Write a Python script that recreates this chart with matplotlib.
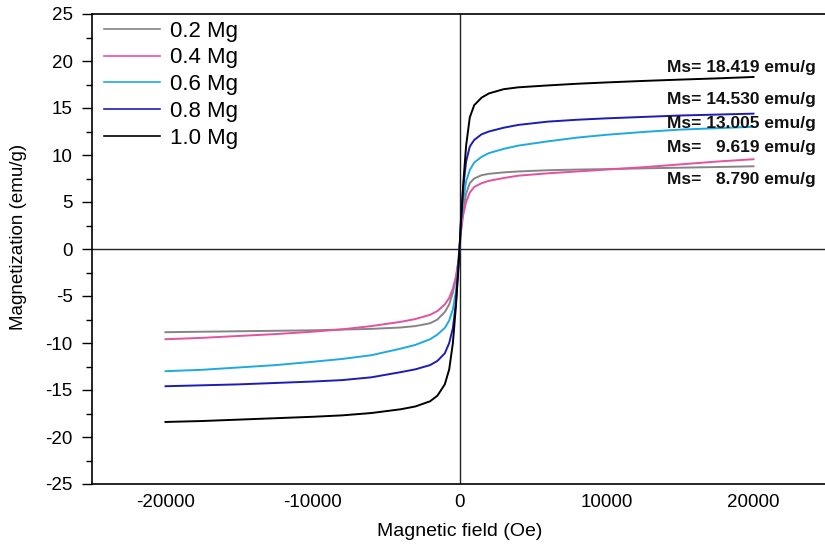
import matplotlib
matplotlib.use("Agg")
import matplotlib.pyplot as plt
from matplotlib.ticker import MultipleLocator

plt.rcParams['font.family'] = ['Liberation Sans', 'DejaVu Sans']
plt.rcParams['axes.unicode_minus'] = False

# Applied field (Oe)
field = [-20000, -17500, -15000, -12500, -10000, -8000, -6000, -4000, -3000,
         -2000, -1500, -1000, -700, -450, -250, -100, 0,
         100, 250, 450, 700, 1000, 1500, 2000, 3000, 4000, 6000, 8000,
         10000, 12500, 15000, 17500, 20000]

labels = ["0.2 Mg", "0.4 Mg", "0.6 Mg", "0.8 Mg", "1.0 Mg"]
colors = ["#858585", "#e2529f", "#1ea9e0", "#1c1cb8", "#000000"]

# Magnetization (emu/g)
m_02 = [-8.85, -8.8, -8.75, -8.7, -8.65, -8.57, -8.5, -8.35, -8.2,
        -7.9, -7.5, -6.7, -5.9, -4.6, -3.2, -1.6, 0.0,
        2.0, 4.2, 5.9, 7.0, 7.5, 7.85, 8.0, 8.15, 8.25, 8.38, 8.45,
        8.5, 8.58, 8.65, 8.72, 8.8]
m_04 = [-9.6, -9.45, -9.25, -9.05, -8.8, -8.55, -8.2, -7.75, -7.45,
        -7.0, -6.6, -5.9, -5.2, -4.2, -3.0, -1.5, 0.0,
        1.8, 3.6, 5.0, 6.0, 6.6, 7.0, 7.25, 7.55, 7.8, 8.05, 8.25,
        8.45, 8.7, 9.0, 9.3, 9.55]
m_06 = [-13.0, -12.85, -12.6, -12.35, -12.0, -11.7, -11.3, -10.6, -10.2,
        -9.6, -9.1, -8.4, -7.6, -6.4, -4.6, -2.2, 0.0,
        2.6, 5.2, 7.2, 8.4, 9.2, 9.8, 10.2, 10.65, 11.0, 11.45, 11.85,
        12.15, 12.45, 12.7, 12.85, 13.0]
m_08 = [-14.6, -14.5, -14.4, -14.25, -14.1, -13.95, -13.65, -13.1, -12.8,
        -12.35, -11.9, -11.1, -10.0, -8.4, -5.8, -2.6, 0.0,
        3.0, 6.5, 9.3, 10.9, 11.6, 12.2, 12.5, 12.9, 13.2, 13.55, 13.75,
        13.9, 14.05, 14.2, 14.3, 14.4]
m_10 = [-18.4, -18.3, -18.15, -18.0, -17.85, -17.7, -17.45, -17.05, -16.75,
        -16.2, -15.6, -14.4, -12.8, -10.0, -6.2, -2.6, 0.0,
        3.0, 6.8, 11.0, 14.0, 15.3, 16.1, 16.55, 17.0, 17.2, 17.4, 17.58,
        17.72, 17.88, 18.02, 18.15, 18.3]
series = [m_02, m_04, m_06, m_08, m_10]

ms_texts = ["Ms= 18.419 emu/g", "Ms= 14.530 emu/g", "Ms= 13.005 emu/g",
            "Ms=   9.619 emu/g", "Ms=   8.790 emu/g"]
ms_ypos = [19.3, 15.9, 13.4, 10.8, 7.4]

fig = plt.figure(figsize=(8.25, 5.47), dpi=100)
ax = fig.add_axes([92/825, 63/547, 735/825, 470/547])

ax.axhline(0, color="#222222", lw=1.0, zorder=1)
ax.axvline(0, color="#222222", lw=1.0, zorder=1)

for lab, col, m in zip(labels, colors, series):
    ax.plot(field, m, color=col, lw=1.4, label=lab, zorder=2)

for t, yv in zip(ms_texts, ms_ypos):
    ax.text(14100, yv, t, fontsize=12.5, fontweight="bold", ha="left",
            va="center", color="#111111")

ax.set_xlim(-25000, 25000)
ax.set_ylim(-25, 25)
ax.xaxis.set_major_locator(MultipleLocator(10000))
ax.yaxis.set_major_locator(MultipleLocator(5))
ax.yaxis.set_minor_locator(MultipleLocator(2.5))
ax.tick_params(axis="y", which="major", direction="out", length=7, width=1,
               labelsize=13.5, pad=7)
ax.tick_params(axis="y", which="minor", direction="out", length=4, width=1)
ax.tick_params(axis="x", which="major", length=0, labelsize=13.5, pad=7)
for s in ["left", "bottom", "top"]:
    ax.spines[s].set_linewidth(1.2)
ax.spines["right"].set_visible(False)

ax.set_xlabel("Magnetic field (Oe)", fontsize=14)
ax.xaxis.set_label_coords(0.5, -0.083)
ax.set_ylabel("Magnetization (emu/g)", fontsize=13.5)
ax.yaxis.set_label_coords(-0.088, 0.525)

leg = ax.legend(loc="upper left", bbox_to_anchor=(0.017, 0.986),
                frameon=False, fontsize=16, handlelength=2.5,
                handletextpad=0.45, labelspacing=0.26, borderaxespad=0.0,
                borderpad=0.0)
for line in leg.get_lines():
    line.set_linewidth(1.2)

fig.savefig("out.png", dpi=100)
